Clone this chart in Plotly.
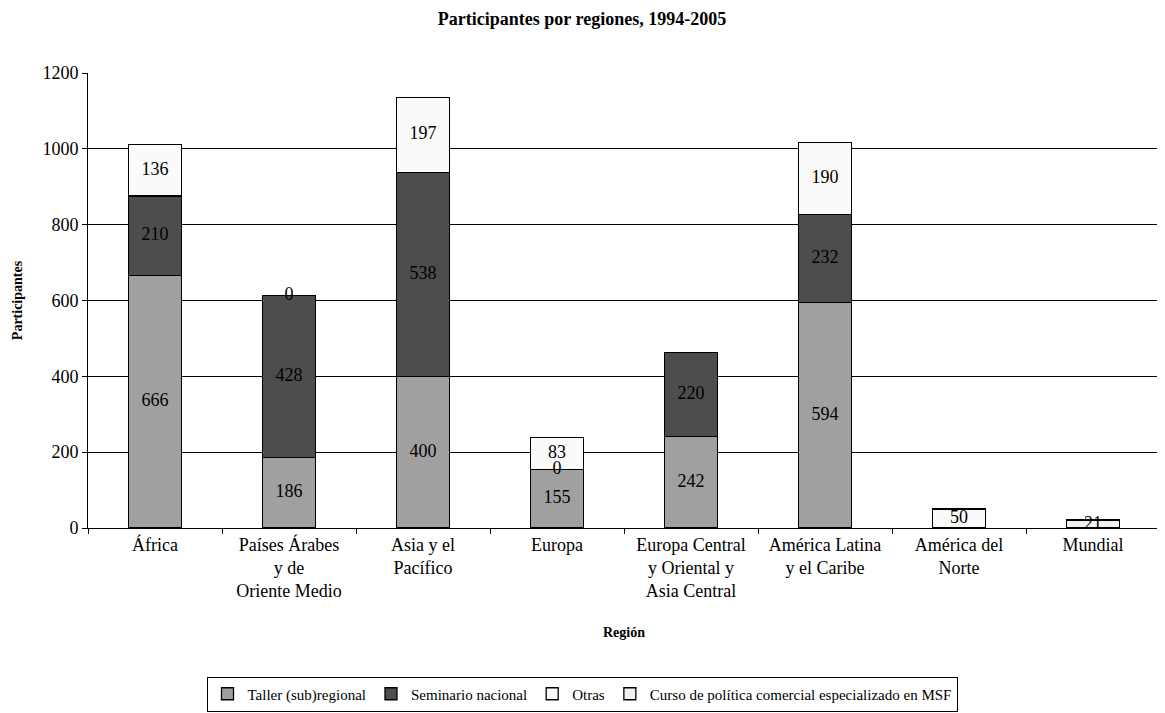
import plotly.graph_objects as go

categories = ["África", "Países Árabes<br>y de<br>Oriente Medio", "Asia y el<br>Pacífico", "Europa",
              "Europa Central<br>y Oriental y<br>Asia Central", "América Latina<br>y el Caribe",
              "América del<br>Norte", "Mundial"]
series_names = ["Taller (sub)regional", "Seminario nacional", "Otras",
                "Curso de política comercial especializado en MSF"]
taller = [666, 186, 400, 155, 242, 594, None, None]
seminario = [210, 428, 538, 0, 220, 232, None, None]
otras = [136, 0, 197, 83, None, 190, 50, None]
curso = [None, None, None, None, None, None, None, 21]
all_series = [taller, seminario, otras, curso]
colors = ["#A0A0A0", "#4D4D4D", "#FAFAFA", "#F0F0F0"]

font_family = "Liberation Serif"
# the page body has an 8px default margin, so the figure is drawn 8px in from the window edge
W, H = 1157, 705

fig = go.Figure()
for name, vals, col in zip(series_names, all_series, colors):
    fig.add_trace(go.Bar(x=categories, y=vals, name=name,
                         marker=dict(color=col, line=dict(color="#000000", width=1.3)),
                         width=0.4, hoverinfo="skip"))

# labels at segment centres
lx, ly, lt = [], [], []
base = [0] * len(categories)
for vals in all_series:
    for i, v in enumerate(vals):
        if v is not None:
            lx.append(categories[i]); ly.append(base[i] + v / 2); lt.append(str(v))
            base[i] += v
fig.add_trace(go.Scatter(x=lx, y=ly, text=lt, mode="text", showlegend=False,
                         textfont=dict(family=font_family, size=18, color="#000000"),
                         hoverinfo="skip"))

fig.update_layout(
    barmode="stack",
    width=W, height=H,
    paper_bgcolor="white", plot_bgcolor="white",
    font=dict(family=font_family, size=18, color="#000000"),
    margin=dict(l=80, r=5, t=65, b=185),
    title=dict(text="<b>Participantes por regiones, 1994-2005</b>", x=574 / W, xanchor="center",
               xref="container", y=1 - 4 / H, yanchor="top", pad=dict(t=0),
               font=dict(family=font_family, size=18, color="#000000")),
    xaxis=dict(showline=True, linecolor="#000000", linewidth=1, ticks="outside",
               tickson="boundaries", ticklen=5, tickcolor="#000000", showgrid=False,
               tickfont=dict(size=18),
               title=dict(text="<b>Región</b>", standoff=26, font=dict(size=14))),
    yaxis=dict(range=[0, 1200], dtick=200, showline=True, linecolor="#000000", linewidth=1,
               ticks="outside", ticklen=5, tickcolor="#000000", showgrid=True,
               gridcolor="#000000", gridwidth=1, tickfont=dict(size=18), zeroline=False,
               title=dict(text="<b>Participantes</b>", standoff=16, font=dict(size=14))),
    legend=dict(orientation="h", xref="container", yref="container", x=574 / W, xanchor="center",
                y=1 - 686 / H, yanchor="middle", bordercolor="#000000", borderwidth=1,
                font=dict(size=15), itemwidth=30, traceorder="normal"),
    bargap=0.6,
)
fig.write_html("out.html")
